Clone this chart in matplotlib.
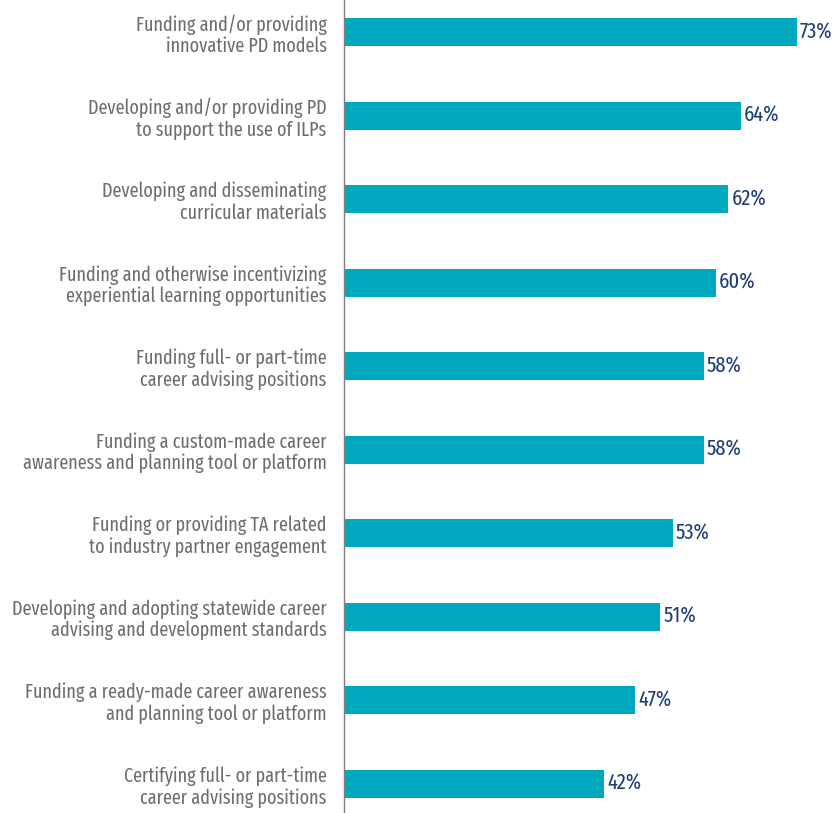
import matplotlib
matplotlib.use("Agg")
import matplotlib.pyplot as plt

categories = [
    "Funding and/or providing\ninnovative PD models",
    "Developing and/or providing PD\nto support the use of ILPs",
    "Developing and disseminating\ncurricular materials",
    "Funding and otherwise incentivizing\nexperiential learning opportunities",
    "Funding full- or part-time\ncareer advising positions",
    "Funding a custom-made career\nawareness and planning tool or platform",
    "Funding or providing TA related\nto industry partner engagement",
    "Developing and adopting statewide career\nadvising and development standards",
    "Funding a ready-made career awareness\nand planning tool or platform",
    "Certifying full- or part-time\ncareer advising positions",
]
values = [73, 64, 62, 60, 58, 58, 53, 51, 47, 42]

plt.rcParams["font.family"] = ["Fira Sans Extra Condensed", "DejaVu Sans"]

bar_color = "#00A8BD"
label_color = "#6D6E71"
value_color = "#1F3F73"

fig = plt.figure(figsize=(8.36, 8.13), dpi=100)
ax = fig.add_axes([344 / 836, 0, 1 - 344 / 836, 1])

y = list(range(len(values)))
ax.barh(y, values, height=0.337, color=bar_color, edgecolor="none")

for yi, v in zip(y, values):
    ax.text(v + 0.5, yi, f"{v}%", va="center", ha="left",
            fontsize=16, color=value_color)

ax.set_xlim(0, (836 - 344) / 6.2)
ax.set_ylim(9.349, -0.386)
ax.set_yticks(y)
ax.set_yticklabels(categories, fontsize=14.2, color=label_color,
                   linespacing=1.12)
ax.tick_params(axis="y", length=0, pad=12.5)
ax.set_xticks([])

for s in ["top", "right", "bottom"]:
    ax.spines[s].set_visible(False)
ax.spines["left"].set_color("#808080")
ax.spines["left"].set_linewidth(1.0)

fig.savefig("out.png", dpi=100)
